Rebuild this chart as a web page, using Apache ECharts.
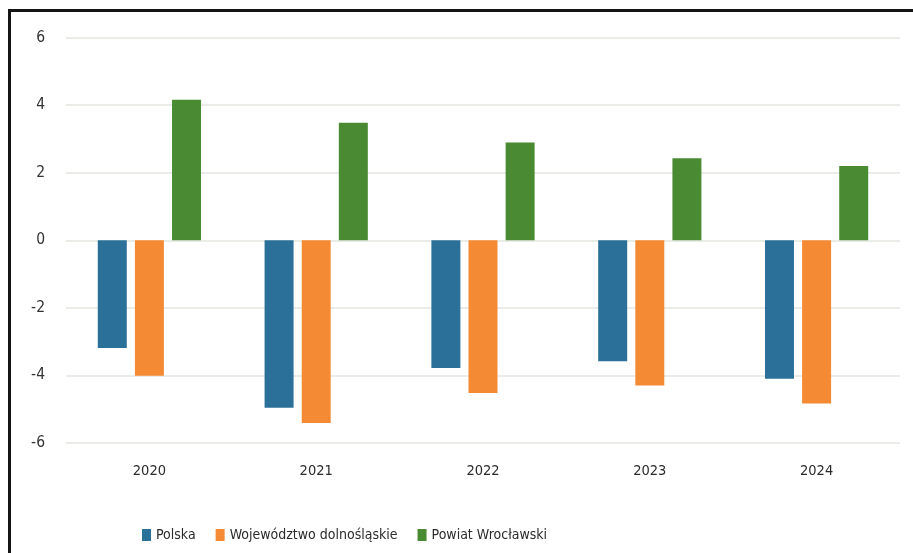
<!DOCTYPE html>
<html>
<head>
<meta charset="utf-8">
<script src="https://cdn.jsdelivr.net/npm/echarts@6/dist/echarts.min.js"></script>
<style>
  html, body { margin: 0; padding: 0; background: #fff; }
  #wrap { position: relative; width: 913px; height: 553px; overflow: hidden; background: #fff; }
  #chart { position: absolute; left: 0; top: 0; width: 913px; height: 553px; }
  #frame { position: absolute; left: 8px; top: 9px; width: 920px; height: 560px;
           border-top: 3px solid #151515; border-left: 3px solid #151515; pointer-events: none; }
</style>
</head>
<body>
<div id="wrap">
  <div id="chart"></div>
  <div id="frame"></div>
</div>
<script>
const years = ['2020', '2021', '2022', '2023', '2024'];
const seriesNames = ['Polska', 'Województwo dolnośląskie', 'Powiat Wrocławski'];
const polska = [-3.19, -4.96, -3.78, -3.58, -4.10];
const dolnoslaskie = [-4.01, -5.41, -4.52, -4.30, -4.83];
const powiat = [4.16, 3.48, 2.89, 2.43, 2.20];
const colors = ['#2a7099', '#f58a34', '#4a8a32'];

const FONT = "'Liberation Sans Narrow', 'DejaVu Sans Condensed', 'Liberation Sans', sans-serif";

const chart = echarts.init(document.getElementById('chart'), null, { renderer: 'canvas' });
const values = [polska, dolnoslaskie, powiat];
chart.setOption({
  animation: false,
  backgroundColor: '#ffffff',
  color: colors,
  textStyle: { fontFamily: FONT },
  grid: { left: 66, right: 13, top: 37.5, bottom: 110, containLabel: false },
  legend: {
    left: 137, top: 523,
    itemWidth: 9, itemHeight: 12, itemGap: 20,
    icon: 'rect',
    textStyle: { fontFamily: FONT, fontSize: 14, color: '#2b2b2b' },
    data: seriesNames
  },
  xAxis: {
    type: 'category',
    data: years,
    axisLine: { show: false, onZero: false },
    axisTick: { show: false },
    axisLabel: { margin: 21, fontFamily: FONT, fontSize: 14.5, color: '#2b2b2b' },
    splitLine: { show: false }
  },
  yAxis: {
    type: 'value',
    min: -6, max: 6, interval: 2,
    axisLine: { show: false },
    axisTick: { show: false },
    axisLabel: { margin: 21, fontFamily: FONT, fontSize: 15.5, color: '#333' },
    splitLine: { show: true, lineStyle: { color: '#e3e7df', width: 1.5 } }
  },
  series: seriesNames.map((name, i) => ({
    name: name,
    type: 'bar',
    data: values[i],
    barWidth: 29,
    barGap: '28%',
    itemStyle: { color: colors[i] }
  }))
});
</script>
</body>
</html>
